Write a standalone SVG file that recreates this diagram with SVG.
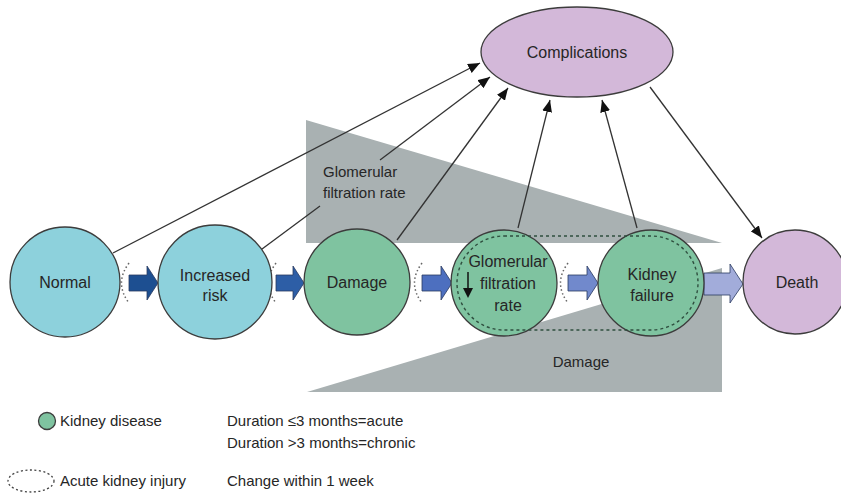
<svg xmlns="http://www.w3.org/2000/svg" width="841" height="498" viewBox="0 0 841 498">
<defs>
<style>
text{font-family:"Liberation Sans",Arial,sans-serif;fill:#262626;}
.n{font-size:16px;text-anchor:middle;}
.l{font-size:15px;}
.teal{fill:#8dd1dc;stroke:#3c3c3c;stroke-width:1.3;}
.green{fill:#7fc3a0;stroke:#3c3c3c;stroke-width:1.3;}
.purple{fill:#d3b8d9;stroke:#3c3c3c;stroke-width:1.3;}
.gray{fill:#a9b1b2;}
.conn{stroke:#333;stroke-width:1.3;fill:none;}
.dot{fill:none;stroke:#666;stroke-width:1.5;stroke-dasharray:1.5 2.5;}
.dash{fill:none;stroke:#2f4f3f;stroke-width:1.4;stroke-dasharray:3 3;}
.blk{stroke:#2a3a60;stroke-width:0.8;}
</style>
<marker id="ah" markerUnits="userSpaceOnUse" markerWidth="13" markerHeight="10" refX="12" refY="5" orient="auto">
<path d="M0,0 L12,5 L0,10 z" fill="#111"/>
</marker>
</defs>
<rect width="841" height="498" fill="#fff"/>

<!-- gray wedges -->
<polygon class="gray" points="306,120 306,243 722,243"/>
<polygon class="gray" points="307,392 722,268 722,392"/>
<text class="l" x="323" y="177">Glomerular</text>
<text class="l" x="323" y="198">filtration rate</text>
<text class="l" x="581" y="367" text-anchor="middle">Damage</text>

<!-- connectors -->
<g id="connectors">
<line class="conn" x1="113" y1="253" x2="480" y2="63" marker-end="url(#ah)"/>
<line class="conn" x1="258" y1="252" x2="320" y2="206"/>
<line class="conn" x1="380" y1="160" x2="490" y2="77" marker-end="url(#ah)"/>
<line class="conn" x1="397" y1="240" x2="508" y2="88" marker-end="url(#ah)"/>
<line class="conn" x1="518" y1="228" x2="550" y2="100" marker-end="url(#ah)"/>
<line class="conn" x1="637" y1="228" x2="602" y2="100" marker-end="url(#ah)"/>
<line class="conn" x1="650" y1="87" x2="762" y2="238" marker-end="url(#ah)"/>
<!-- acute kidney injury dotted marks -->
<path class="dot" d="M129,263 Q114,283 129,303"/>
<path class="dot" d="M276,263 Q261,283 276,303"/>
<path class="dot" d="M422,263 Q407,283 422,303"/>
<path class="dot" d="M568,263 Q553,283 568,303"/>
<!-- block arrows -->
<polygon class="blk" fill="#1d4f91" points="129,275 147,275 147,266 158,283 147,300 147,291 129,291"/>
<polygon class="blk" fill="#2d5ea6" points="276,275 293,275 293,266 304,283 293,300 293,291 276,291"/>
<polygon class="blk" fill="#4d6fbf" points="422,275 441,275 441,266 452,283 441,300 441,291 422,291"/>
<polygon class="blk" fill="#7189cc" points="568,275 587,275 587,266 598,283 587,300 587,291 568,291"/>
<polygon class="blk" fill="#a2acda" points="704,273 730,273 730,264 743,284 730,303 730,295 704,295"/>
</g>

<g id="complications">
<ellipse class="purple" cx="577" cy="52" rx="96" ry="45"/>
<text class="n" x="577" y="58">Complications</text>
</g>
<g id="normal">
<circle class="teal" cx="65" cy="282" r="55"/>
<text class="n" x="65" y="288">Normal</text>
</g>
<g id="increased-risk">
<circle class="teal" cx="215" cy="282" r="57"/>
<text class="n" x="215" y="281">Increased</text>
<text class="n" x="215" y="301">risk</text>
</g>
<g id="damage">
<circle class="green" cx="357" cy="282" r="53"/>
<text class="n" x="357" y="288">Damage</text>
</g>
<g id="gfr">
<circle class="green" cx="504" cy="283" r="53"/>
<text class="n" x="508" y="267">Glomerular</text>
<text class="n" x="508" y="289">filtration</text>
<text class="n" x="508" y="311">rate</text>
<line x1="468" y1="272" x2="468" y2="290" stroke="#111" stroke-width="1.5"/>
<polygon points="463,288 473,288 468,298" fill="#111"/>
</g>
<g id="kidney-failure">
<circle class="green" cx="651" cy="283" r="53"/>
<text class="n" x="652" y="280">Kidney</text>
<text class="n" x="652" y="301">failure</text>
</g>
<g id="death">
<circle class="purple" cx="795" cy="282" r="52"/>
<text class="n" x="797" y="288">Death</text>
</g>
<path class="dash" d="M504,236 H651 A47,47 0 0 1 651,330 H504 A47,47 0 0 1 504,236 Z"/>

<g id="legend">
<circle class="green" cx="47" cy="421" r="8.5"/>
<text class="l" x="60" y="426">Kidney disease</text>
<text class="l" x="227" y="426">Duration ≤3 months=acute</text>
<text class="l" x="227" y="448">Duration &gt;3 months=chronic</text>
<ellipse cx="31" cy="481" rx="23" ry="11" fill="none" stroke="#444" stroke-width="1.3" stroke-dasharray="2 2.5"/>
<text class="l" x="60" y="486">Acute kidney injury</text>
<text class="l" x="227" y="486">Change within 1 week</text>
</g>
</svg>
